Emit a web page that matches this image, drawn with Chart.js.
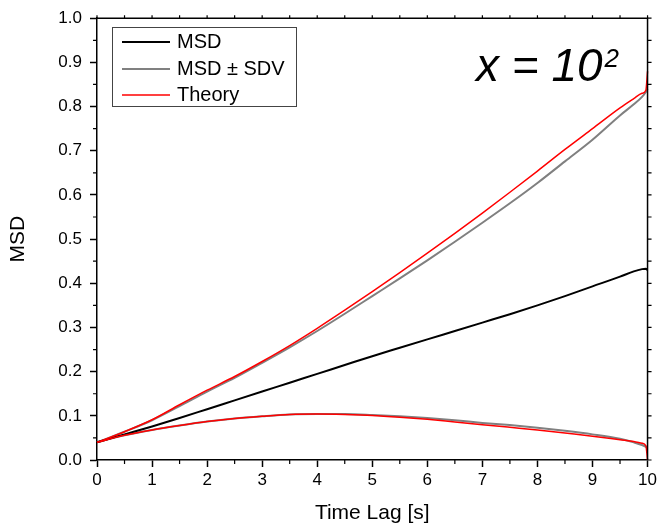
<!DOCTYPE html>
<html>
<head>
<meta charset="utf-8">
<script src="https://cdn.jsdelivr.net/npm/chart.js@4.4.1/dist/chart.umd.min.js"></script>
<style>
	body { margin: 0; background: #fff; }
	canvas { display: block; }
</style>
</head>
<body>
<canvas id="msdChart" width="660" height="529"></canvas>
<script>
// time lag grid (s)
const timeLag = [0, 0.5, 1, 1.5, 2, 2.5, 3, 3.5, 4, 4.5, 5, 5.5, 6, 6.5, 7, 7.5, 8, 8.5, 9, 9.5, 9.75, 9.9, 9.97, 10];

const msd = [0.040, 0.058, 0.076, 0.095, 0.115, 0.135, 0.155, 0.175, 0.195, 0.215, 0.235, 0.254,
	0.273, 0.292, 0.311, 0.330, 0.350, 0.371, 0.393, 0.415, 0.427, 0.432, 0.433, 0.430];
const msdPlusSdv = [0.040, 0.064, 0.090, 0.122, 0.155, 0.186, 0.220, 0.255, 0.292, 0.331, 0.371, 0.411,
	0.452, 0.494, 0.537, 0.581, 0.627, 0.676, 0.725, 0.780, 0.805, 0.822, 0.833, 0.840];
const msdMinusSdv = [0.040, 0.056, 0.068, 0.078, 0.087, 0.094, 0.099, 0.103, 0.104, 0.104, 0.102, 0.099,
	0.095, 0.090, 0.084, 0.079, 0.073, 0.066, 0.058, 0.048, 0.040, 0.034, 0.030, 0.028];
const theoryUpper = [0.040, 0.064, 0.091, 0.125, 0.158, 0.189, 0.223, 0.259, 0.298, 0.339, 0.381, 0.424,
	0.468, 0.513, 0.559, 0.606, 0.654, 0.703, 0.750, 0.797, 0.818, 0.830, 0.837, 0.880];
const theoryLower = [0.040, 0.056, 0.068, 0.078, 0.087, 0.094, 0.099, 0.103, 0.104, 0.103, 0.101, 0.097,
	0.092, 0.086, 0.080, 0.074, 0.068, 0.061, 0.054, 0.046, 0.042, 0.038, 0.032, 0.000];

const legendItems = [
	{ label: 'MSD', color: '#000000', width: 2 },
	{ label: 'MSD \u00b1 SDV', color: '#808080', width: 2 },
	{ label: 'Theory', color: '#ff0000', width: 1.5 }
];

const FONT = '"Liberation Sans", Arial, sans-serif';

function toPoints(ys) {
	return ys.map(function(y, i) { return { x: timeLag[i], y: y }; });
}

function lineSet(label, ys, color, width) {
	return {
		label: label,
		data: toPoints(ys),
		borderColor: color,
		borderWidth: width,
		pointRadius: 0,
		fill: false,
		cubicInterpolationMode: 'monotone',
		clip: 4
	};
}

// extra drawing: minor ticks, mirrored frame, legend box, annotation
const decorations = {
	id: 'decorations',
	afterDraw(chart) {
		let ctx = chart.ctx;
		let area = chart.chartArea;
		let xs = chart.scales.x;
		let ys = chart.scales.y;
		ctx.save();
		ctx.strokeStyle = '#000';
		ctx.lineWidth = 1.5;

		// top and right frame
		ctx.beginPath();
		ctx.moveTo(area.left, area.top);
		ctx.lineTo(area.right, area.top);
		ctx.lineTo(area.right, area.bottom);
		ctx.stroke();

		ctx.lineWidth = 1.2;
		ctx.beginPath();
		for (let v = 0; v <= 20; v++) {
			let px = xs.getPixelForValue(v / 2);
			if (v % 2 === 1) {
				ctx.moveTo(px, area.bottom);
				ctx.lineTo(px, area.bottom + 4);
			}
			ctx.moveTo(px, area.top);
			ctx.lineTo(px, area.top - 3);
		}
		for (let v = 0; v <= 20; v++) {
			let py = ys.getPixelForValue(v / 20);
			if (v % 2 === 1) {
				ctx.moveTo(area.left, py);
				ctx.lineTo(area.left - 4, py);
			}
			ctx.moveTo(area.right, py);
			ctx.lineTo(area.right + 4, py);
		}
		ctx.stroke();

		// legend
		ctx.lineWidth = 1;
		ctx.strokeStyle = '#444';
		ctx.strokeRect(112.5, 27.5, 184, 79);
		ctx.font = '20px ' + FONT;
		ctx.textBaseline = 'middle';
		ctx.textAlign = 'left';
		let rowY = [42, 69, 95];
		legendItems.forEach(function(item, i) {
			ctx.strokeStyle = item.color;
			ctx.lineWidth = item.width;
			ctx.beginPath();
			ctx.moveTo(122, rowY[i]);
			ctx.lineTo(170, rowY[i]);
			ctx.stroke();
			ctx.fillStyle = '#000';
			ctx.fillText(item.label, 177, rowY[i]);
		});

		// annotation
		ctx.textBaseline = 'alphabetic';
		ctx.font = 'italic 46px ' + FONT;
		let main = 'x = 10';
		ctx.fillText(main, 476, 81);
		let w = ctx.measureText(main).width;
		ctx.font = 'italic 26px ' + FONT;
		ctx.fillText('2', 476 + w + 2, 67);
		ctx.restore();
	}
};

let chart = new Chart(document.getElementById('msdChart'), {
	type: 'line',
	data: {
		datasets: [
			lineSet('Theory', theoryUpper, '#ff0000', 1.5),
			lineSet('Theory lower', theoryLower, '#ff0000', 1.5),
			lineSet('MSD', msd, '#000000', 2),
			lineSet('MSD + SDV', msdPlusSdv, '#808080', 2),
			lineSet('MSD - SDV', msdMinusSdv, '#808080', 2)
		]
	},
	options: {
		responsive: false,
		animation: false,
		layout: { padding: { top: 16, right: 10, left: 0, bottom: 0 } },
		plugins: {
			legend: { display: false },
			tooltip: { enabled: false }
		},
		scales: {
			x: {
				type: 'linear',
				min: 0,
				max: 10,
				afterFit(scale) { scale.height = 69; },
				ticks: {
					stepSize: 1,
					color: '#000',
					font: { family: FONT, size: 17 },
					padding: 3,
					maxRotation: 0
				},
				grid: {
					drawOnChartArea: false,
					tickLength: 7,
					tickColor: '#000',
					tickWidth: 1.5
				},
				border: { color: '#000', width: 1.5 },
				title: {
					display: true,
					text: 'Time Lag [s]',
					color: '#000',
					font: { family: FONT, size: 21 },
					padding: { top: 4, bottom: 3 }
				}
			},
			y: {
				type: 'linear',
				min: 0,
				max: 1,
				afterFit(scale) { scale.width = 97; },
				ticks: {
					stepSize: 0.1,
					color: '#000',
					font: { family: FONT, size: 17 },
					padding: 8,
					callback: function(v) { return v.toFixed(1); }
				},
				grid: {
					drawOnChartArea: false,
					tickLength: 7,
					tickColor: '#000',
					tickWidth: 1.5
				},
				border: { color: '#000', width: 1.5 },
				title: {
					display: true,
					text: 'MSD',
					color: '#000',
					font: { family: FONT, size: 21 },
					padding: { top: 6, bottom: 0 }
				}
			}
		}
	},
	plugins: [decorations]
});
</script>
</body>
</html>
